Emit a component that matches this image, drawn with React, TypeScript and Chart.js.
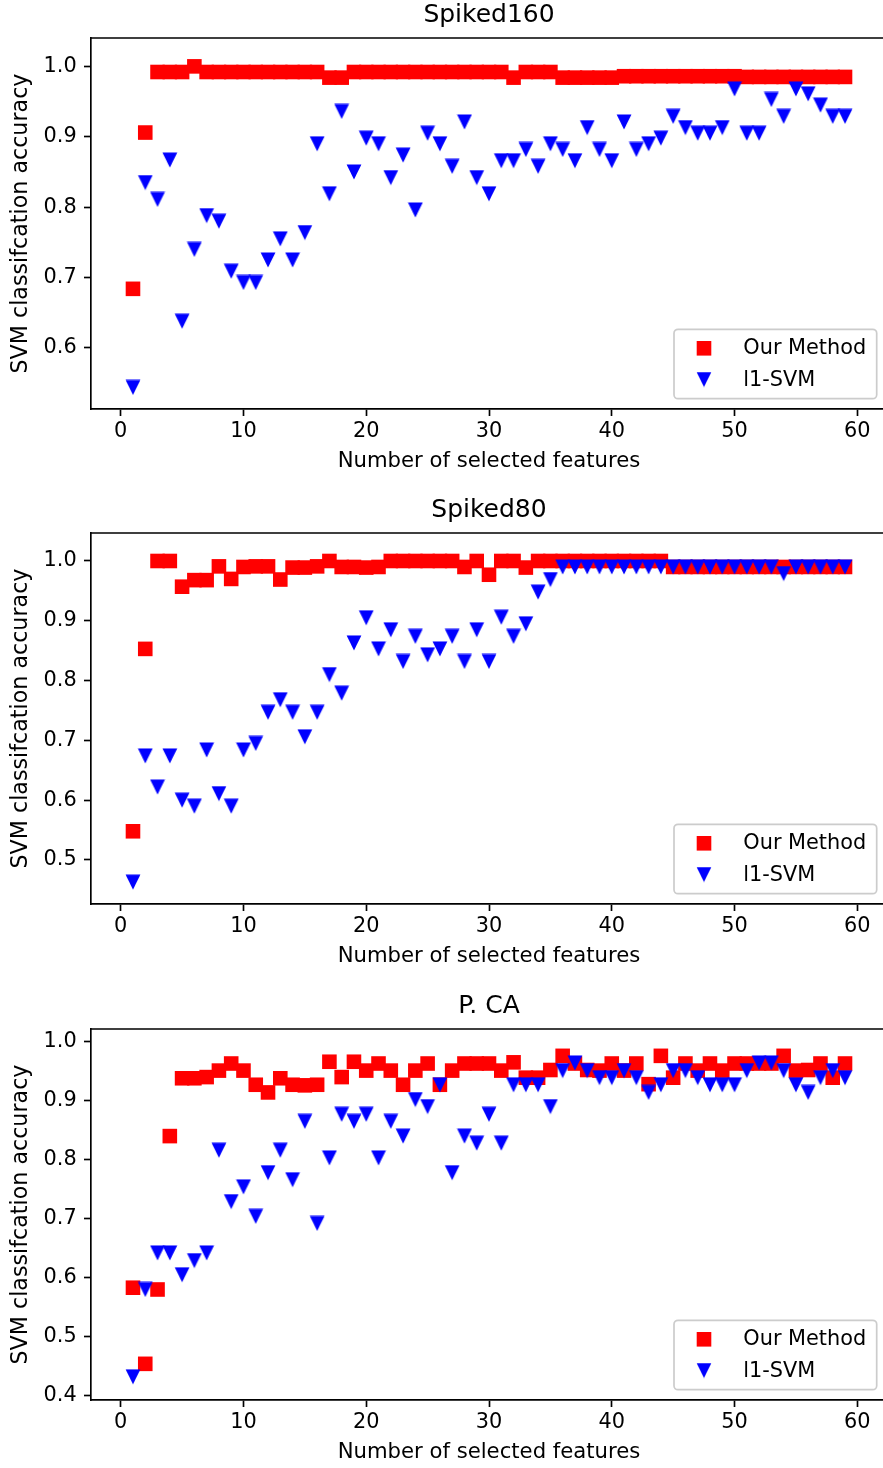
import { useEffect, useRef } from 'react';
import { Chart, registerables } from 'chart.js';

Chart.register(...registerables);

// ---------- data ----------
const FEATURES = [1, 2, 3, 4, 5, 6, 7, 8, 9, 10, 11, 12, 13, 14, 15, 16, 17, 18, 19, 20, 21, 22, 23, 24, 25, 26, 27, 28, 29, 30, 31, 32, 33, 34, 35, 36, 37, 38, 39, 40, 41, 42, 43, 44, 45, 46, 47, 48, 49, 50, 51, 52, 53, 54, 55, 56, 57, 58, 59];

const SERIES_LABELS = ['Our Method', 'l1-SVM'];
const PANEL_TITLES = ['Spiked160', 'Spiked80', 'P. CA'];
const X_TITLE = 'Number of selected features';
const Y_TITLE = 'SVM classifcation accuracy';

const X_TICKS = [0, 10, 20, 30, 40, 50, 60];
const Y_TICKS_SPIKED160 = [0.6, 0.7, 0.8, 0.9, 1.0];
const Y_TICKS_SPIKED80 = [0.5, 0.6, 0.7, 0.8, 0.9, 1.0];
const Y_TICKS_PCA = [0.4, 0.5, 0.6, 0.7, 0.8, 0.9, 1.0];

const X_RANGE = [-2.42, 62.42];
const Y_RANGE_SPIKED160 = [0.5133, 1.0403];
const Y_RANGE_SPIKED80 = [0.4264, 1.0468];
const Y_RANGE_PCA = [0.3927, 1.0215];

const SPIKED160_OURS = [
  0.684, 0.906, 0.992, 0.992, 0.992, 1.0, 0.992, 0.992, 0.992, 0.992,
  0.992, 0.992, 0.992, 0.992, 0.992, 0.992, 0.984, 0.984, 0.992, 0.992,
  0.992, 0.992, 0.992, 0.992, 0.992, 0.992, 0.992, 0.992, 0.992, 0.992,
  0.992, 0.984, 0.992, 0.992, 0.992, 0.984, 0.984, 0.984, 0.984, 0.984,
  0.986, 0.986, 0.986, 0.986, 0.986, 0.986, 0.986, 0.986, 0.986, 0.986,
  0.985, 0.985, 0.985, 0.985, 0.985, 0.985, 0.985, 0.985, 0.985,
];
const SPIKED160_L1 = [
  0.544, 0.835, 0.811, 0.867, 0.638, 0.74, 0.788, 0.78, 0.709, 0.693,
  0.693, 0.725, 0.755, 0.725, 0.764, 0.89, 0.819, 0.936, 0.85, 0.898,
  0.89, 0.842, 0.874, 0.796, 0.905, 0.89, 0.858, 0.921, 0.842, 0.819,
  0.866, 0.866, 0.882, 0.858, 0.89, 0.882, 0.866, 0.913, 0.882, 0.866,
  0.921, 0.882, 0.89, 0.898, 0.929, 0.913, 0.905, 0.905, 0.913, 0.968,
  0.905, 0.905, 0.953, 0.929, 0.968, 0.961, 0.945, 0.929, 0.929,
];

const SPIKED80_OURS = [
  0.548, 0.853, 1.0, 1.0, 0.957, 0.968, 0.968, 0.991, 0.97, 0.99,
  0.991, 0.991, 0.969, 0.989, 0.989, 0.991, 1.0, 0.99, 0.99, 0.989,
  0.99, 1.0, 1.0, 1.0, 1.0, 1.0, 1.0, 0.99, 1.0, 0.977,
  1.0, 1.0, 0.989, 1.0, 1.0, 1.0, 1.0, 1.0, 1.0, 1.0,
  1.0, 1.0, 1.0, 1.0, 0.99, 0.99, 0.99, 0.99, 0.99, 0.99,
  0.99, 0.99, 0.99, 0.99, 0.99, 0.99, 0.99, 0.99, 0.99,
];
const SPIKED80_L1 = [
  0.463, 0.674, 0.622, 0.674, 0.6, 0.59, 0.684, 0.611, 0.59, 0.684,
  0.695, 0.747, 0.768, 0.747, 0.706, 0.747, 0.81, 0.779, 0.863, 0.905,
  0.853, 0.885, 0.832, 0.874, 0.843, 0.853, 0.874, 0.832, 0.885, 0.832,
  0.906, 0.874, 0.895, 0.948, 0.969, 0.99, 0.99, 0.99, 0.99, 0.99,
  0.99, 0.99, 0.99, 0.99, 0.99, 0.99, 0.99, 0.99, 0.99, 0.99,
  0.99, 0.99, 0.99, 0.979, 0.99, 0.99, 0.99, 0.99, 0.99,
];

const PCA_OURS = [
  0.583, 0.454, 0.58, 0.84, 0.938, 0.938, 0.94, 0.951, 0.963, 0.951,
  0.927, 0.914, 0.938, 0.927, 0.926, 0.927, 0.966, 0.94, 0.966, 0.951,
  0.963, 0.951, 0.927, 0.951, 0.963, 0.927, 0.951, 0.963, 0.963, 0.963,
  0.951, 0.965, 0.939, 0.939, 0.952, 0.976, 0.963, 0.952, 0.951, 0.963,
  0.951, 0.963, 0.928, 0.976, 0.939, 0.963, 0.951, 0.963, 0.951, 0.963,
  0.963, 0.963, 0.963, 0.976, 0.951, 0.952, 0.963, 0.939, 0.963,
];
const PCA_L1 = [
  0.432, 0.58, 0.642, 0.642, 0.605, 0.629, 0.642, 0.816, 0.729, 0.754,
  0.704, 0.778, 0.816, 0.766, 0.865, 0.692, 0.803, 0.877, 0.865, 0.877,
  0.803, 0.865, 0.84, 0.902, 0.89, 0.927, 0.778, 0.84, 0.828, 0.877,
  0.828, 0.927, 0.927, 0.927, 0.89, 0.951, 0.964, 0.951, 0.939, 0.939,
  0.951, 0.939, 0.914, 0.927, 0.951, 0.951, 0.939, 0.927, 0.927, 0.927,
  0.951, 0.964, 0.964, 0.951, 0.927, 0.914, 0.939, 0.951, 0.939,
];

// ---------- styles ----------
const RED = '#ff0000';
const BLUE = '#0000ff';
const FAMILY = "'DejaVu Sans', sans-serif";
const FS = 20.83;
const CANVAS_W = 890;
const CANVAS_H = 477;
const PLOT_RIGHT = 887;

function makeTriangle(color: string): HTMLCanvasElement {
  const c = document.createElement('canvas');
  c.width = 16;
  c.height = 16;
  const g = c.getContext('2d')!;
  g.fillStyle = color;
  g.beginPath();
  g.moveTo(0.6, 0.5);
  g.lineTo(15.4, 0.5);
  g.lineTo(8, 15.5);
  g.closePath();
  g.fill();
  return c;
}

let TRI: HTMLCanvasElement | null = null;
function tri() {
  if (!TRI) TRI = makeTriangle(BLUE);
  return TRI;
}

const framePlugin = {
  id: 'frameAndLegend',
  afterDraw(chart: any) {
    const { ctx, chartArea: a } = chart;
    ctx.save();
    // top and right spines
    ctx.strokeStyle = '#000';
    ctx.lineWidth = 1.67;
    ctx.beginPath();
    ctx.moveTo(a.left, a.top);
    ctx.lineTo(a.right, a.top);
    ctx.lineTo(a.right, a.bottom);
    ctx.stroke();

    // legend box
    const x0 = a.right - 213;
    const y0 = a.bottom - 79.7;
    const w = 202.7;
    const h = 69.4;
    ctx.beginPath();
    if ((ctx as any).roundRect) (ctx as any).roundRect(x0, y0, w, h, 4);
    else ctx.rect(x0, y0, w, h);
    ctx.fillStyle = 'rgba(255,255,255,0.8)';
    ctx.fill();
    ctx.lineWidth = 1.7;
    ctx.strokeStyle = '#cccccc';
    ctx.stroke();

    const mx = a.right - 183;
    const r1 = a.bottom - 60.7;
    const r2 = a.bottom - 29.5;
    ctx.fillStyle = RED;
    ctx.fillRect(mx - 7.3, r1 - 7.3, 14.6, 14.6);
    ctx.drawImage(tri(), mx - 8, r2 - 8);

    const ds = chart.data.datasets;
    ctx.fillStyle = '#000';
    ctx.font = `${FS}px ${FAMILY}`;
    ctx.textAlign = 'left';
    ctx.textBaseline = 'alphabetic';
    ctx.fillText(ds[0].label, a.right - 143.7, a.bottom - 54.6);
    ctx.fillText(ds[1].label, a.right - 143.7, a.bottom - 23);
    ctx.restore();
  },
};

type PanelProps = {
  top: number;
  title: string;
  ours: number[];
  l1: number[];
  yRange: number[];
  yTicks: number[];
};

function Panel({ top, title, ours, l1, yRange, yTicks }: PanelProps) {
  const ref = useRef<HTMLCanvasElement>(null);

  useEffect(() => {
    const font = { family: FAMILY, size: FS, weight: 'normal' as const, lineHeight: 1.2 };
    const chart = new Chart(ref.current!, {
      type: 'scatter',
      data: {
        datasets: [
          {
            label: SERIES_LABELS[0],
            data: FEATURES.map((x, i) => ({ x, y: ours[i] })),
            pointStyle: 'rect',
            pointRadius: 10.32,
            pointBorderWidth: 0,
            backgroundColor: RED,
            borderColor: RED,
            order: 2,
          },
          {
            label: SERIES_LABELS[1],
            data: FEATURES.map((x, i) => ({ x, y: l1[i] })),
            pointStyle: tri(),
            pointRadius: 8,
            pointBorderWidth: 0,
            backgroundColor: BLUE,
            borderColor: BLUE,
            order: 1,
          },
        ],
      },
      options: {
        animation: false,
        responsive: false,
        devicePixelRatio: 1,
        events: [],
        layout: {
          autoPadding: false,
          padding: { left: 0, right: CANVAS_W - PLOT_RIGHT, top: 0, bottom: 0 },
        },
        plugins: {
          legend: { display: false },
          tooltip: { enabled: false },
          title: {
            display: true,
            text: title,
            fullSize: false,
            color: '#000',
            font: { family: FAMILY, size: 25, weight: 'normal', lineHeight: 1.2 },
            padding: { top: 0.6, bottom: 7.4 },
          },
        },
        scales: {
          x: {
            type: 'linear',
            position: 'bottom',
            min: X_RANGE[0],
            max: X_RANGE[1],
            afterBuildTicks: (s: any) => {
              s.ticks = X_TICKS.map((value) => ({ value }));
            },
            afterFit: (s: any) => {
              s.height = 68;
              s.paddingLeft = 0;
              s.paddingRight = 0;
              s.paddingTop = 0;
              s.paddingBottom = 0;
            },
            ticks: {
              color: '#000',
              font,
              padding: 3.5,
              autoSkip: false,
              maxRotation: 0,
              callback: (v: any) => String(v),
            },
            grid: {
              drawOnChartArea: false,
              drawTicks: true,
              tickLength: 7,
              tickWidth: 1.67,
              tickColor: '#000',
              color: '#000',
            },
            border: { display: true, color: '#000', width: 1.67 },
            title: {
              display: true,
              text: X_TITLE,
              color: '#000',
              font: { ...font, size: 21.2 },
              padding: { top: 0, bottom: 3.2 },
            },
          },
          y: {
            type: 'linear',
            position: 'left',
            min: yRange[0],
            max: yRange[1],
            afterBuildTicks: (s: any) => {
              s.ticks = yTicks.map((value) => ({ value }));
            },
            afterFit: (s: any) => {
              s.width = 91;
              s.paddingLeft = 0;
              s.paddingRight = 0;
              s.paddingTop = 0;
              s.paddingBottom = 0;
            },
            ticks: {
              color: '#000',
              font,
              padding: 7.3,
              autoSkip: false,
              callback: (v: any) => Number(v).toFixed(1),
            },
            grid: {
              drawOnChartArea: false,
              drawTicks: true,
              tickLength: 7,
              tickWidth: 1.67,
              tickColor: '#000',
              color: '#000',
            },
            border: { display: true, color: '#000', width: 1.67 },
            title: {
              display: true,
              text: Y_TITLE,
              color: '#000',
              font: { ...font, size: 22.2 },
              padding: { top: 8, bottom: 0 },
            },
          },
        },
      },
      plugins: [framePlugin],
    } as any);
    return () => chart.destroy();
  }, [title, ours, l1, yRange, yTicks]);

  return (
    <div style={{ position: 'absolute', left: 0, top, width: CANVAS_W, height: CANVAS_H }}>
      <canvas
        ref={ref}
        width={CANVAS_W}
        height={CANVAS_H}
        style={{ display: 'block', width: CANVAS_W, height: CANVAS_H }}
      />
    </div>
  );
}

export default function App() {
  return (
    <div
      style={{
        position: 'absolute',
        left: 0,
        top: 0,
        width: 883,
        height: 1468,
        overflow: 'hidden',
        background: '#fff',
      }}
    >
      <Panel top={0} title={PANEL_TITLES[0]} ours={SPIKED160_OURS} l1={SPIKED160_L1} yRange={Y_RANGE_SPIKED160} yTicks={Y_TICKS_SPIKED160} />
      <Panel top={495} title={PANEL_TITLES[1]} ours={SPIKED80_OURS} l1={SPIKED80_L1} yRange={Y_RANGE_SPIKED80} yTicks={Y_TICKS_SPIKED80} />
      <Panel top={991} title={PANEL_TITLES[2]} ours={PCA_OURS} l1={PCA_L1} yRange={Y_RANGE_PCA} yTicks={Y_TICKS_PCA} />
    </div>
  );
}
